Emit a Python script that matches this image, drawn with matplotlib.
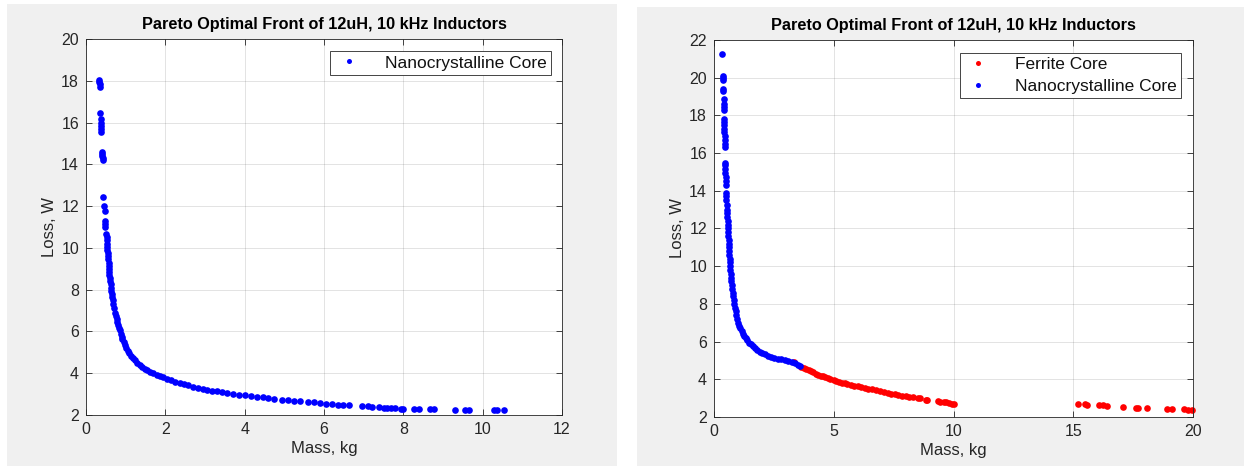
import matplotlib
matplotlib.use("Agg")
import matplotlib.pyplot as plt
from matplotlib.patches import Rectangle

plt.rcParams['font.family'] = ['Liberation Sans', 'DejaVu Sans']

TITLE = "Pareto Optimal Front of 12uH, 10 kHz Inductors"
XLABEL = "Mass, kg"
YLABEL = "Loss, W"

# ---- Left panel: nanocrystalline only ----
left_nano_mass = [
    0.33, 0.34, 0.35, 0.36,
    0.36, 0.37, 0.37, 0.37, 0.38, 0.38,
    0.40, 0.41, 0.41, 0.42, 0.42,
    0.44, 0.46, 0.47, 0.48, 0.48, 0.49,
    0.51, 0.52, 0.52, 0.53, 0.54, 0.54, 0.55,
    0.56, 0.56, 0.57, 0.57, 0.58, 0.59, 0.59, 0.60,
    0.61, 0.62, 0.63, 0.64, 0.65, 0.66, 0.67, 0.69,
    0.71, 0.73, 0.75, 0.77, 0.79, 0.81, 0.83, 0.85,
    0.87, 0.90, 0.92, 0.95, 0.98, 1.01, 1.05, 1.09,
    1.13, 1.18, 1.23, 1.29, 1.35, 1.42, 1.48, 1.55, 1.62,
    1.70, 1.78, 1.86, 1.95, 2.04, 2.14, 2.25, 2.36, 2.47,
    2.58, 2.70, 2.82, 2.94, 3.06, 3.18, 3.30, 3.43, 3.56,
    3.70, 3.85, 4.00, 4.15, 4.30, 4.45, 4.60, 4.75, 4.95,
    5.10, 5.25, 5.40, 5.60, 5.75, 5.90, 6.05, 6.20, 6.35, 6.47, 6.62,
    6.96, 7.10, 7.20, 7.38, 7.50, 7.60, 7.70, 7.80, 7.95, 8.00,
    8.28, 8.40, 8.68, 8.78, 9.30, 9.55, 9.65, 10.28, 10.36, 10.55,
]
left_nano_loss = [
    18.05, 17.95, 17.85, 17.72,
    16.45, 16.15, 16.00, 15.85, 15.70, 15.55,
    14.60, 14.50, 14.40, 14.30, 14.22,
    12.42, 12.00, 11.75, 11.30, 11.15, 11.00,
    10.65, 10.50, 10.40, 10.20, 10.05, 9.90, 9.75,
    9.60, 9.45, 9.30, 9.15, 9.00, 8.85, 8.70, 8.55,
    8.40, 8.25, 8.10, 7.95, 7.80, 7.65, 7.50, 7.30,
    7.10, 6.90, 6.75, 6.60, 6.45, 6.30, 6.15, 6.05,
    5.90, 5.75, 5.62, 5.48, 5.33, 5.20, 5.07, 4.95,
    4.83, 4.72, 4.62, 4.50, 4.40, 4.30, 4.22, 4.14, 4.06,
    4.00, 3.92, 3.86, 3.80, 3.74, 3.67, 3.60, 3.54, 3.48,
    3.42, 3.36, 3.31, 3.26, 3.21, 3.17, 3.13, 3.09, 3.05,
    3.01, 2.97, 2.94, 2.90, 2.87, 2.84, 2.81, 2.78, 2.74,
    2.71, 2.68, 2.66, 2.62, 2.60, 2.58, 2.55, 2.52, 2.50, 2.47, 2.46,
    2.42, 2.41, 2.40, 2.37, 2.35, 2.34, 2.34, 2.33, 2.31, 2.30,
    2.29, 2.28, 2.27, 2.27, 2.25, 2.24, 2.23, 2.22, 2.22, 2.22,
]

# ---- Right panel: ferrite + nanocrystalline ----
right_nano_mass = [
    0.35, 0.38, 0.38, 0.38, 0.39, 0.39, 0.40, 0.41, 0.41, 0.41,
    0.42, 0.42, 0.43, 0.43, 0.43, 0.44, 0.44, 0.44, 0.45,
    0.47, 0.47, 0.48, 0.48, 0.49, 0.49, 0.50,
    0.51, 0.51, 0.52, 0.53, 0.54, 0.55, 0.56, 0.57, 0.58, 0.59, 0.59,
    0.60, 0.61, 0.62, 0.63, 0.64, 0.64, 0.65, 0.66, 0.67, 0.68, 0.69, 0.71, 0.72,
    0.74, 0.76, 0.78, 0.80, 0.82, 0.84, 0.87, 0.90, 0.93, 0.97, 1.01, 1.05, 1.10, 1.15,
    1.20, 1.26, 1.32, 1.39, 1.46, 1.54, 1.62, 1.71, 1.80, 1.90, 2.00, 2.12, 2.25,
    2.38, 2.52, 2.66, 2.80, 2.95, 3.10, 3.25, 3.38, 3.50, 3.58,
]
right_nano_loss = [
    21.24, 20.10, 20.00, 19.90, 19.40, 19.30, 18.85, 18.60, 18.45, 18.30,
    17.80, 17.65, 17.50, 17.30, 17.10, 16.90, 16.70, 16.50, 16.35,
    15.50, 15.35, 15.15, 14.95, 14.75, 14.50, 14.30,
    13.90, 13.70, 13.50, 13.25, 13.00, 12.80, 12.60, 12.40, 12.20, 12.00, 11.80,
    11.60, 11.40, 11.20, 11.00, 10.80, 10.60, 10.40, 10.20, 10.00, 9.80, 9.60, 9.40, 9.20,
    9.00, 8.80, 8.60, 8.40, 8.20, 8.00, 7.80, 7.60, 7.40, 7.20, 7.00, 6.85, 6.70, 6.55,
    6.42, 6.30, 6.18, 6.06, 5.95, 5.85, 5.75, 5.65, 5.56, 5.47, 5.40, 5.33, 5.26,
    5.20, 5.14, 5.10, 5.06, 5.00, 4.97, 4.90, 4.84, 4.77, 4.70,
]
right_ferrite_mass = [
    3.33, 3.65, 3.75, 3.85, 3.95, 4.05, 4.15, 4.25, 4.35, 4.45, 4.55, 4.65, 4.75, 4.85,
    5.00, 5.10, 5.20, 5.33, 5.45, 5.57, 5.70, 5.85, 6.00, 6.15, 6.30, 6.45, 6.60, 6.75, 6.93,
    7.10, 7.25, 7.40, 7.55, 7.70, 7.85, 8.00, 8.15, 8.32, 8.50, 8.60, 8.85, 8.90,
    9.35, 9.45, 9.60, 9.70, 9.80, 9.93, 10.00,
    15.21, 15.51, 15.58, 16.07, 16.24, 16.39, 17.08, 17.60, 17.71, 18.08,
    18.93, 19.13, 19.61, 19.79, 19.96,
]
right_ferrite_loss = [
    4.93, 4.66, 4.60, 4.55, 4.48, 4.43, 4.37, 4.30, 4.25, 4.20, 4.16, 4.12, 4.06, 4.02,
    3.96, 3.92, 3.88, 3.83, 3.79, 3.74, 3.70, 3.66, 3.62, 3.58, 3.54, 3.50, 3.46, 3.43, 3.36,
    3.32, 3.28, 3.24, 3.21, 3.18, 3.14, 3.11, 3.08, 3.06, 3.02, 3.00, 2.90, 2.89,
    2.84, 2.82, 2.80, 2.78, 2.75, 2.71, 2.70,
    2.67, 2.67, 2.66, 2.65, 2.64, 2.60, 2.53, 2.50, 2.50, 2.47,
    2.44, 2.42, 2.40, 2.37, 2.37,
]

left_xticks = [0, 2, 4, 6, 8, 10, 12]
left_yticks = [2, 4, 6, 8, 10, 12, 14, 16, 18, 20]
right_xticks = [0, 5, 10, 15, 20]
right_yticks = [2, 4, 6, 8, 10, 12, 14, 16, 18, 20, 22]

FIG_BG = '#f0f0f0'
AX_COL = '#262626'
BLUE = (0, 0, 1)
RED = (1, 0, 0)
MS = 4.8

fig = plt.figure(figsize=(12.44, 4.66), dpi=100, facecolor='white')
fig.patches.append(Rectangle((7/1244, 0), 610/1244, 462/466, transform=fig.transFigure,
                             facecolor=FIG_BG, edgecolor='none', zorder=-10))
fig.patches.append(Rectangle((637/1244, 0), 607/1244, 459/466, transform=fig.transFigure,
                             facecolor=FIG_BG, edgecolor='none', zorder=-10))

axL = fig.add_axes([86/1244, 51/466, 476/1244, 376/466])
axR = fig.add_axes([714/1244, 49/466, 479/1244, 377/466])

def style(ax, xlim, ylim, xt, yt):
    ax.set_facecolor('white')
    ax.set_xlim(*xlim)
    ax.set_ylim(*ylim)
    ax.set_xticks(xt)
    ax.set_yticks(yt)
    ax.tick_params(direction='in', top=True, right=True, length=4, width=0.6,
                   colors=AX_COL, labelsize=11.5, pad=5)
    ax.grid(True, color=(0.15, 0.15, 0.15), alpha=0.15, linewidth=0.6)
    ax.set_axisbelow(True)
    for s in ax.spines.values():
        s.set_color(AX_COL)
        s.set_linewidth(0.6)
    ax.set_title(TITLE, fontsize=11.7, fontweight='bold', color='black', pad=7)
    ax.set_xlabel(XLABEL, fontsize=12, color=AX_COL, labelpad=3)
    ax.set_ylabel(YLABEL, fontsize=12, color=AX_COL, labelpad=3)

style(axL, (0, 12), (2, 20), left_xticks, left_yticks)
axL.plot(left_nano_mass, left_nano_loss, 'o', color=BLUE, markersize=MS,
         markeredgewidth=0, label='Nanocrystalline Core', clip_on=False)
axL.legend(loc='upper right', bbox_to_anchor=(0.977, 0.968), fancybox=False,
           framealpha=1, edgecolor=AX_COL, fontsize=12.5, handlelength=1.6,
           handletextpad=1.3, borderpad=0.25, labelcolor='#111111', markerscale=0.75,
           borderaxespad=0).get_frame().set_linewidth(0.6)

style(axR, (0, 20), (2, 22), right_xticks, right_yticks)
axR.plot(right_ferrite_mass, right_ferrite_loss, 'o', color=RED, markersize=MS,
         markeredgewidth=0, label='Ferrite Core', clip_on=False)
axR.plot(right_nano_mass, right_nano_loss, 'o', color=BLUE, markersize=MS,
         markeredgewidth=0, label='Nanocrystalline Core', clip_on=False)
axR.legend(loc='upper right', bbox_to_anchor=(0.975, 0.9655), fancybox=False,
           framealpha=1, edgecolor=AX_COL, fontsize=12.5, handlelength=1.6,
           handletextpad=1.3, borderpad=0.25, labelspacing=0.35, labelcolor='#111111',
           markerscale=0.75, borderaxespad=0).get_frame().set_linewidth(0.6)

fig.savefig('out.png', dpi=100, facecolor='white')
